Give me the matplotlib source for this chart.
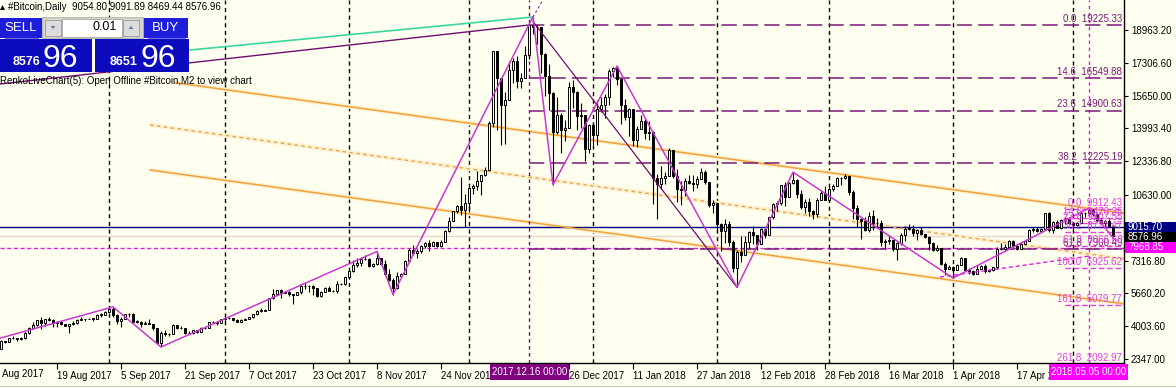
import matplotlib
matplotlib.use("Agg")
import matplotlib.pyplot as plt
from matplotlib.patches import Rectangle, Polygon

plt.rcParams['font.family'] = ['Liberation Sans', 'DejaVu Sans']

BG = '#FFFFF0'

# ---------------- data (daily bars, 5 Aug 2017 .. 11 May 2018) ----------------
first_open = 2870.0
closes = [
    # Aug 2017
    3252, 3213, 3379, 3420, 3342, 3381, 3650, 3884, 4073, 4326, 4181, 4376, 4331, 4160, 4193, 4087,
    4001, 4100, 4151, 4334, 4372, 4352, 4382, 4382, 4579, 4565, 4703,
    # Sep 2017
    4892, 4578, 4236, 4376, 4597, 4599, 4228, 4226, 4122, 4161, 4130, 3882, 3154, 3637, 3625, 3582,
    4065, 3924, 3905, 3631, 3630, 3792, 3682, 3926, 3892, 4208, 4195, 4174, 4360,
    # Oct 2017
    4403, 4409, 4318, 4229, 4328, 4371, 4439, 4611, 4773, 4782, 4826, 5446, 5647, 5831, 5679, 5725,
    5605, 5590, 5708, 6011, 6031, 6008, 5930, 5526, 5750, 5904, 5780, 5753, 6153, 6130, 6468,
    # Nov 2017
    6767, 7078, 7207, 7379, 7407, 7022, 7144, 7459, 7143, 6618, 6357, 5950, 6559, 6635, 7315, 7871,
    7708, 7790, 8036, 8200, 8071, 8253, 8038, 8253, 8790, 9330, 9818, 10058, 9888, 10233,
    # Dec 2017
    10975, 11074, 11323, 11657, 11916, 14291, 17899, 16570, 15178, 15455, 16936, 17415, 16408, 16564,
    17706, 19225, 19140, 19114, 17776, 16624, 15802, 13831, 14699, 13925, 14026, 16099, 15838, 14606,
    14656, 12952, 14156,
    # Jan 2018
    13657, 14982, 15201, 15599, 16900, 17050, 16477, 15170, 14595, 14973, 13405, 13980, 14360, 13772,
    13819, 11490, 11188, 11474, 11607, 12899, 11601, 10931, 10868, 11359, 11259, 11171, 11441, 11787,
    11307, 10106, 10221,
    # Feb 2018
    9171, 8831, 9175, 8277, 6955, 7754, 7621, 8265, 8737, 8621, 8129, 8927, 8598, 9494, 10166, 10233,
    11112, 10552, 11225, 11403, 10690, 10005, 10301, 9813, 9664, 10366, 10725, 10397,
    # Mar 2018
    10951, 11086, 11489, 11512, 11573, 10779, 9965, 9395, 9337, 8866, 9578, 9205, 9194, 8269, 8300,
    8338, 7916, 8223, 8630, 8913, 8930, 8728, 8879, 8668, 8495, 8209, 7833, 7954, 7165, 6890, 6973,
    # Apr 2018
    6845, 7083, 7456, 6853, 6811, 6636, 6911, 7023, 6770, 6834, 6968, 7890, 7895, 7986, 8329, 8058,
    7902, 8163, 8294, 8845, 8895, 8803, 8930, 9697, 8845, 9281, 8987, 9348, 9419, 9240,
    # May 2018
    9119, 9235, 9744, 9700, 9859, 9654, 9373, 9234, 9325, 9054.80, 8576.96,
]
highs = [
    3290, 3273, 3398, 3480, 3425, 3427, 3679, 3950, 4208, 4330, 4442, 4385, 4485, 4371, 4242, 4189,
    4109, 4125, 4256, 4363, 4453, 4376, 4400, 4394, 4626, 4640, 4745,
    4906, 4975, 4590, 4439, 4618, 4662, 4684, 4322, 4245, 4261, 4344, 4123, 3921, 3733, 3809, 3637,
    4116, 4070, 4031, 3912, 3752, 3819, 3796, 3950, 3969, 4210, 4269, 4214, 4384,
    4470, 4470, 4433, 4352, 4358, 4420, 4456, 4626, 4796, 4921, 4876, 5447, 5856, 5838, 5853, 5784,
    5776, 5603, 5710, 6060, 6194, 6076, 6075, 5890, 5777, 5975, 6039, 5846, 6304, 6200, 6470,
    6769, 7367, 7461, 7492, 7601, 7445, 7207, 7776, 7446, 7335, 6875, 6431, 6739, 6696, 7330, 7964,
    8101, 7884, 8101, 8267, 8370, 8302, 8267, 8336, 8857, 9522, 9818, 10125, 11517, 10690,
    10975, 11191, 11859, 11657, 12032, 14369, 17899, 17294, 16313, 15824, 17405, 17567, 17653, 16819,
    18155, 19300, 19650, 19222, 19021, 17802, 17268, 15828, 15572, 14797, 14404, 16326, 16462, 15888,
    15280, 14681, 14242,
    14300, 15444, 15572, 15739, 17000, 17100, 17150, 16536, 15497, 15050, 14915, 14109, 14659, 14468,
    14355, 13843, 11678, 12107, 11780, 13031, 12899, 11926, 11332, 11500, 11623, 11634, 11599, 12018,
    11875, 11308, 10382,
    10241, 9200, 9430, 9334, 8365, 7850, 8558, 8558, 8800, 9065, 8549, 8985, 8958, 9518, 10219, 10324,
    11140, 11275, 11306, 11786, 11418, 10902, 10417, 10501, 9860, 10475, 10870, 11067,
    11034, 11190, 11545, 11564, 11690, 11562, 10899, 10116, 9466, 9531, 9769, 9885, 9483, 9355, 8421,
    8615, 8346, 8261, 8704, 9050, 9177, 9092, 8915, 9006, 8682, 8541, 8261, 8109, 7964, 7227, 7115,
    7049, 7150, 7509, 7446, 6933, 6858, 7070, 7111, 7167, 6892, 6990, 8011, 8183, 8140, 8372, 8338,
    8127, 8225, 8300, 8924, 9035, 9004, 8956, 9732, 9746, 9307, 9387, 9430, 9540, 9455,
    9255, 9268, 9802, 9747, 9964, 9939, 9660, 9482, 9367, 9396, 9091.89,
]
lows = [
    2875, 3167, 3205, 3360, 3267, 3319, 3372, 3612, 3848, 3990, 3850, 3992, 4250, 3970, 3938, 4052,
    3988, 3633, 4070, 4114, 4307, 4283, 4337, 4250, 4353, 4472, 4551,
    4692, 4470, 4111, 3981, 4377, 4466, 4167, 4151, 3951, 4099, 4085, 3792, 3153, 2946, 3507, 3492,
    3585, 3855, 3880, 3582, 3598, 3617, 3665, 3686, 3869, 3906, 4146, 4041, 4167,
    4269, 4377, 4258, 4210, 4209, 4318, 4347, 4436, 4543, 4740, 4751, 4822, 5379, 5576, 5415, 5661,
    5546, 5109, 5560, 5627, 5885, 5704, 5574, 5480, 5451, 5704, 5763, 5741, 5685, 6077, 6103,
    6378, 6758, 7003, 7031, 7345, 7003, 7006, 7115, 7101, 6599, 6293, 5600, 5879, 6463, 6640, 7314,
    7575, 7463, 7694, 7962, 7824, 8075, 8000, 8022, 8257, 8775, 9317, 9736, 9601, 9009,
    9754, 10694, 10863, 10629, 11604, 11924, 14057, 13906, 13151, 13226, 15497, 16273, 16039, 16037,
    16564, 17515, 18750, 18272, 16812, 15642, 14952, 11150, 13701, 12750, 13355, 14023, 15005, 13938,
    14020, 12350, 12755,
    13154, 13163, 14845, 14522, 15202, 16605, 16177, 14208, 14424, 13631, 13105, 13048, 13952, 13439,
    13416, 10194, 9402, 10942, 11179, 11599, 11500, 10300, 10129, 10580, 11185, 10842, 11000, 11423,
    11179, 10036, 9703,
    8771, 7796, 8200, 8031, 6756, 5960, 7257, 7637, 7932, 8162, 7850, 8141, 8455, 8607, 9403, 9824,
    10149, 10080, 10513, 11171, 10479, 9921, 9731, 9546, 9406, 9501, 10365, 10376,
    10300, 10835, 11113, 11136, 11431, 10652, 9420, 9036, 8410, 8828, 8757, 8879, 9000, 8068, 7925,
    8154, 7812, 7323, 8094, 8295, 8846, 8562, 8346, 8600, 8455, 7874, 7819, 7790, 7087, 6603, 6879,
    6430, 6820, 7079, 6815, 6645, 6575, 6625, 6929, 6662, 6729, 6800, 6900, 7825, 7874, 7999, 7978,
    7870, 7917, 8141, 8285, 8774, 8779, 8810, 8940, 8753, 8732, 8960, 8934, 9173, 9175,
    8891, 9061, 9226, 9543, 9696, 9572, 9248, 9156, 9036, 9040, 8469.44,
]
opens = [first_open] + closes[:-1]

symbol_title = "#Bitcoin,Daily"
bid_price = 8576.96
ask_price = 8651.96
lot_size = "0.01"
comment_text = "RenkoLiveChart(5): Open Offline #Bitcoin,M2 to view chart"

x_tick_bars = [14, 30, 46, 62, 78, 94, 110, 142, 158, 174, 190, 206, 222, 238, 254]
x_tick_labels = ["19 Aug 2017", "5 Sep 2017", "21 Sep 2017", "7 Oct 2017", "23 Oct 2017",
                 "8 Nov 2017", "24 Nov 2017", "26 Dec 2017", "11 Jan 2018", "27 Jan 2018",
                 "12 Feb 2018", "28 Feb 2018", "16 Mar 2018", "1 Apr 2018", "17 Apr 2018"]
first_partial_label = "Aug 2017"
y_tick_values = [18963.20, 17306.60, 15650.00, 13993.40, 12336.80, 10630.00,
                 7316.80, 5660.20, 4003.60, 2347.00]

month_start_bars = [27, 56, 87, 117, 148, 179, 207, 238, 268]

# zigzag indicator (bar, price)
zz_bars = [-1, 28, 40, 94, 98, 133, 138, 154, 184, 198, 238, 272, 278]
zz_prices = [3350, 4975, 2946, 7776, 5600, 19650, 11150, 17150, 5960, 11786, 6430, 9964, 8469.44]

# trend lines (bar, price) pairs
green_line_bars, green_line_prices = [47.25, 133], [17961, 19630]
purple_line1_bars, purple_line1_prices = [-0.25, 132], [16242, 19225]
purple_line2_bars, purple_line2_prices = [133, 184], [19400, 5960]
purple_dot_bars, purple_dot_prices = [133, 137.5], [19630, 21200]
magenta_diag_bars, magenta_diag_prices = [234.75, 272.25], [6485, 7547]

# equidistant channel (upper, middle, lower)
chan_start_bars = [43.5, 37.25, 37.25]
chan_start_prices = [16306, 14170, 11894]
chan_end_bar = 281
chan_end_prices = [9704, 7394, 5118]

# fibonacci 1 (Dec 2017 top) and 2 (May 2018)
fib1_start_bar = 132
fib1_levels = [0.0, 14.6, 23.6, 38.2, 61.8]
fib1_prices = [19225.33, 16549.88, 14900.63, 12225.19, 7900.49]
fib2_start_bar = 266
fib2_levels = [0.0, 14.6, 23.6, 38.2, 61.8, 100.0, 161.8, 261.8]
fib2_prices = [9912.43, 9476.35, 9207.55, 8771.47, 8066.60, 6925.62, 5079.77, 2092.97]

hline_navy = 9015.70
hline_magenta = 7968.85
vline_fib1_bar = 132
vline_fib2_bar = 272
vline_fib1_label = "2017.12.16 00:00"
vline_fib2_label = "2018.05.05 00:00"

# ---------------- figure ----------------
fig = plt.figure(figsize=(11.76, 3.88), dpi=100, facecolor=BG)
ax = fig.add_axes([0, 25 / 388, 1124 / 1176, 363 / 388], facecolor=BG)
ax.set_xlim(-0.25, 280.75)
ax.set_ylim(2137, 20489)

# period separators
for b in month_start_bars:
    ax.axvline(b, color='black', lw=1.0, ls=(0, (3, 2.5)), zorder=1)

# horizontal lines
ax.axhline(bid_price, color='#E8D6CC', lw=1.0, zorder=1)
ax.axhline(hline_navy, color='#000080', lw=1.0, zorder=2)
ax.axhline(hline_magenta, color='#E020E0', lw=1.0, ls=(0, (3, 1.8)), zorder=2)

# channel
for i in range(3):
    xs_c = [chan_start_bars[i], chan_end_bar]
    ys_c = [chan_start_prices[i], chan_end_prices[i]]
    ax.plot(xs_c, ys_c, color='#FCF1D2', lw=3.2, solid_capstyle='butt', zorder=1.5)
    if i == 1:
        ax.plot(xs_c, ys_c, color='#E8A448', lw=1.0, ls=(0, (2.5, 2.5)), zorder=2)
    else:
        ax.plot(xs_c, ys_c, color='#EFA23A', lw=1.1, zorder=2)

# fib vertical anchors
ax.axvline(vline_fib1_bar, color='#800080', lw=1.0, ls=(0, (2.5, 2.5)), zorder=2)
ax.axvline(vline_fib2_bar, color='#E020E0', lw=1.0, ls=(0, (2.5, 2.5)), zorder=2)

# fib 1 levels
for lvl, p in zip(fib1_levels, fib1_prices):
    ax.plot([fib1_start_bar, 281], [p, p], color='#7A1A78', lw=1.1, ls=(0, (10, 4)), zorder=2)
    ax.text(280.3, p + 60, f"{lvl:.1f}  {p:.2f}", ha='right', va='bottom',
            fontsize=7, color='#7A1A78', zorder=6)
# fib 2 levels
for lvl, p in zip(fib2_levels, fib2_prices):
    ax.plot([fib2_start_bar, 281], [p, p], color='#E040E0', lw=1.0, ls=(0, (4, 2)), zorder=2)
    ax.text(280.3, p + 60, f"{lvl:.1f}  {p:.2f}", ha='right', va='bottom',
            fontsize=7, color='#E040E0', zorder=6)

# candles
n = len(closes)
xs = list(range(n))
ax.vlines(xs, lows, highs, color='black', lw=0.8, zorder=3)
bottoms = [min(o, c) for o, c in zip(opens, closes)]
heights = [max(abs(c - o), 25) for o, c in zip(opens, closes)]
fills = ['white' if c >= o else 'black' for o, c in zip(opens, closes)]
ax.bar(xs, heights, bottom=bottoms, width=0.68, color=fills, edgecolor='black',
       linewidth=0.7, zorder=4)

# trend lines
ax.plot(green_line_bars, green_line_prices, color='#3CD6A0', lw=1.2, zorder=5)
ax.plot(purple_line1_bars, purple_line1_prices, color='#6E0F6E', lw=1.0, zorder=5)
ax.plot(purple_line2_bars, purple_line2_prices, color='#6E0F6E', lw=0.9, zorder=5)
ax.plot(purple_dot_bars, purple_dot_prices, color='#9A30B0', lw=0.9, ls=(0, (2, 2)), zorder=5)
ax.plot(magenta_diag_bars, magenta_diag_prices, color='#E020E0', lw=1.0, ls=(0, (3, 2)), zorder=5)

# zigzag
ax.plot(zz_bars, zz_prices, color='#C838D0', lw=1.1, zorder=5)

# axes styling
for s in ['top', 'left']:
    ax.spines[s].set_visible(False)
for s in ['bottom', 'right']:
    ax.spines[s].set_color('black')
    ax.spines[s].set_linewidth(1.0)
ax.yaxis.tick_right()
ax.set_yticks(y_tick_values)
ax.set_yticklabels([f"{v:.2f}" for v in y_tick_values])
ax.tick_params(axis='y', direction='out', length=3, width=0.8, pad=2, labelsize=7, colors='black')
ax.set_xticks(x_tick_bars)
ax.set_xticklabels(x_tick_labels, ha='left')
ax.tick_params(axis='x', direction='out', length=4, width=0.8, pad=2, labelsize=7, colors='black')

# ---------------- overlay (terminal widgets, labels) ----------------
ov = fig.add_axes([0, 0, 1, 1], zorder=10)
ov.set_xlim(0, 1176)
ov.set_ylim(388, 0)
ov.axis('off')
ov.patch.set_alpha(0)

# title
ov.add_patch(Polygon([(0, 10), (5, 10), (2.5, 5)], closed=True, fc='black', ec='none'))
ov.text(8, 7.5, f"{symbol_title}  {opens[-1]:.2f} {highs[-1]:.2f} {lows[-1]:.2f} {closes[-1]:.2f}",
        fontsize=7, va='center', ha='left', color='black')

# trade panel
btn = '#1E1EDA'
box = '#0C0CBE'
ov.add_patch(Rectangle((0, 18), 42, 20, fc=btn, ec='none'))
ov.add_patch(Rectangle((143, 18), 45, 20, fc=btn, ec='none'))
ov.add_patch(Rectangle((0, 39), 92, 33, fc=box, ec='none'))
ov.add_patch(Rectangle((95, 39), 94, 33, fc=box, ec='none'))
ov.plot([5, 38], [37.5, 37.5], color='#6C6CF0', lw=0.8)
ov.plot([148, 185], [37.5, 37.5], color='#6C6CF0', lw=0.8)
ov.add_patch(Rectangle((42, 17), 101, 21, fc='#D6D3CC', ec='#B0B0B0', lw=0.6))
ov.add_patch(Rectangle((62, 18.5), 60, 18, fc='white', ec='#A8A8A8', lw=0.6))
ov.add_patch(Rectangle((45, 19.5), 16, 16, fc='#DCDCDC', ec='#9A9A9A', lw=0.6))
ov.add_patch(Rectangle((123, 19.5), 16, 16, fc='#DCDCDC', ec='#9A9A9A', lw=0.6))
ov.add_patch(Polygon([(50.5, 26), (55.5, 26), (53, 29)], closed=True, fc='#6878A0', ec='none'))
ov.add_patch(Polygon([(128.5, 29), (133.5, 29), (131, 26)], closed=True, fc='#6878A0', ec='none'))
ov.text(117, 27.5, lot_size, ha='right', va='center', fontsize=9, color='black')
ov.text(21, 28, "SELL", ha='center', va='center', fontsize=9.5, color='white')
ov.text(165, 28, "BUY", ha='center', va='center', fontsize=9.5, color='white')

bid_s = f"{bid_price:.2f}"
ask_s = f"{ask_price:.2f}"
ov.text(40, 65, bid_s[:4], ha='right', va='baseline', fontsize=9, fontweight='bold', color='white')
ov.text(43, 67, bid_s[-2:], ha='left', va='baseline', fontsize=23, color='white')
ov.text(138, 65, ask_s[:4], ha='right', va='baseline', fontsize=9, fontweight='bold', color='white')
ov.text(141, 67, ask_s[-2:], ha='left', va='baseline', fontsize=23, color='white')

ov.text(0, 80.5, comment_text, ha='left', va='center', fontsize=7, color='black')

# right-axis price boxes
ov.add_patch(Rectangle((1125, 221.5), 51, 10, fc='#000080', ec='none'))
ov.text(1128, 226.5, f"{hline_navy:.2f}", ha='left', va='center', fontsize=7, color='white')
ov.add_patch(Rectangle((1125, 231.5), 51, 10, fc='black', ec='none'))
ov.text(1128, 236.5, f"{bid_price:.2f}", ha='left', va='center', fontsize=7, color='white')
ov.add_patch(Rectangle((1125, 242), 51, 11, fc='#FF00FF', ec='none'))
ov.text(1128, 247.5, f"{hline_magenta:.2f}", ha='left', va='center', fontsize=7, color='white')

# bottom time boxes
ov.text(2, 374, first_partial_label, ha='left', va='center', fontsize=7, color='black')
ov.add_patch(Rectangle((490, 364), 79, 16, fc='#800080', ec='none'))
ov.text(529.5, 372, vline_fib1_label, ha='center', va='center', fontsize=7, color='white')
ov.add_patch(Rectangle((1049, 364), 79, 16, fc='#FF00FF', ec='none'))
ov.text(1088.5, 372, vline_fib2_label, ha='center', va='center', fontsize=7, color='white')

# window border at the bottom
ov.plot([0, 1176], [385.5, 385.5], color='#C8C8C8', lw=1.0)

fig.savefig("out.png", dpi=100, facecolor=BG)
